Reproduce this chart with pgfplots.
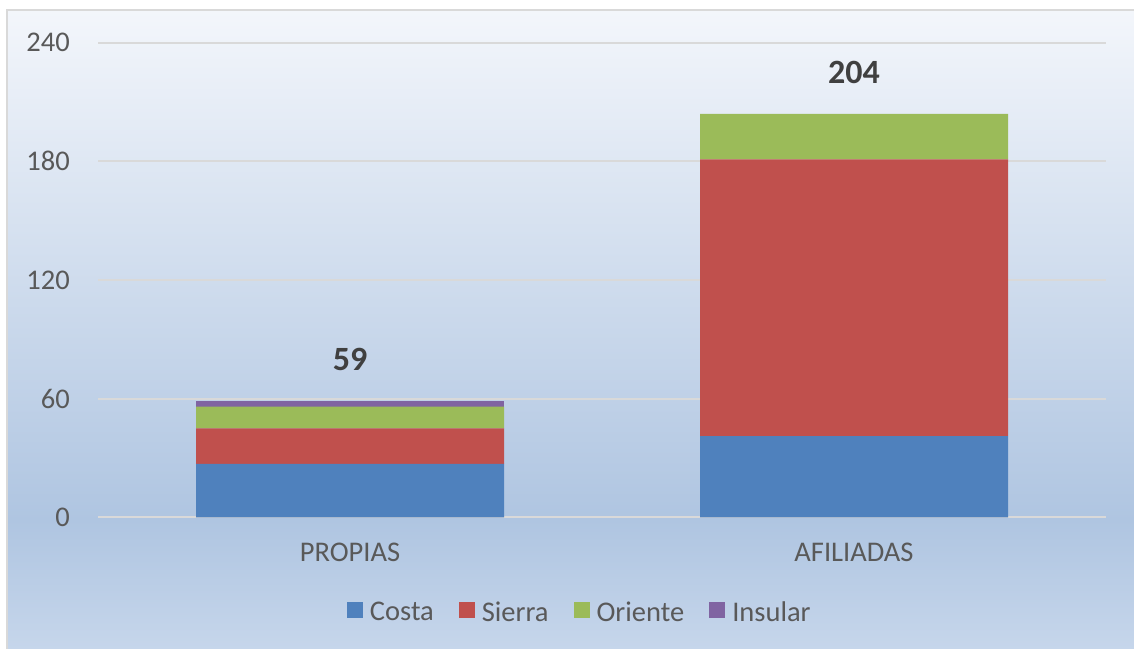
\documentclass[border=0pt]{standalone}
\usepackage{pgfplots}
\pgfplotsset{compat=1.18}
\usepackage{fontspec}
\setmainfont{Carlito}
\definecolor{costa}{HTML}{4F81BD}
\definecolor{sierra}{HTML}{C0504D}
\definecolor{oriente}{HTML}{9BBB59}
\definecolor{insular}{HTML}{8064A2}
\definecolor{gridgray}{HTML}{D9D9D9}
\definecolor{textgray}{HTML}{595959}
\definecolor{labgray}{HTML}{404040}
\definecolor{bgtop}{HTML}{F3F6FB}
\definecolor{bgmid}{HTML}{AFC5E1}
\definecolor{bgbot}{HTML}{C6D6EB}
\pgfdeclareverticalshading{bgshade}{100bp}{color(0bp)=(bgbot); color(25bp)=(bgbot); color(35.1bp)=(bgmid); color(75bp)=(bgtop); color(100bp)=(bgtop)}
\pgfplotsset{
  commonaxis/.style={
    at={(98bp,131.7bp)}, anchor=south west,
    width=1008bp, height=474.6bp, scale only axis,
    xmin=-0.5, xmax=1.5, ymin=0, ymax=240,
    enlargelimits=false,
    /pgf/number format/assume math mode=true,
  }
}
\begin{document}
\begin{tikzpicture}
\useasboundingbox (0,0) rectangle (1134bp,649bp);
\fill[white] (0,0) rectangle (1134bp,649bp);
\shade[shading=bgshade] (6.5bp,0bp) rectangle (1134bp,639bp);
\draw[gridgray, line width=2bp] (6.5bp,-2bp) -- (6.5bp,639bp) -- (1140bp,639bp);
\begin{axis}[
  commonaxis,
  ybar stacked, bar width=308bp,
  axis line style={draw=none},
  tick style={draw=none},
  major tick length=0pt,
  ymajorgrids,
  grid style={gridgray, line width=2bp},
  xtick={0,1}, xticklabels={PROPIAS,AFILIADAS},
  ytick={0,60,120,180,240},
  tick label style={font=\fontsize{28.5bp}{34bp}\selectfont, text=textgray},
  yticklabel style={anchor=east, inner sep=0pt, xshift=-28bp},
  xticklabel style={anchor=north, inner sep=0pt, yshift=-26bp},
  legend columns=4,
  legend cell align=left,
  legend image code/.code={\fill[#1] (0bp,-5.8bp) rectangle (16bp,10.2bp);},
  legend style={draw=none, fill=none, at={(0.477,-0.1995)}, anchor=center,
    font=\fontsize{28.5bp}{34bp}\selectfont, text=textgray,
    nodes={inner sep=0pt},
    column sep=7bp,
    /tikz/every even column/.append style={column sep=25bp}},
]
\addplot[fill=costa, draw=none] coordinates {(0,27) (1,41)};
\addlegendentry{Costa}
\addplot[fill=sierra, draw=none] coordinates {(0,18) (1,140)};
\addlegendentry{Sierra}
\addplot[fill=oriente, draw=none] coordinates {(0,11) (1,23)};
\addlegendentry{Oriente}
\addplot[fill=insular, draw=none] coordinates {(0,3) (1,0)};
\addlegendentry{Insular}
\end{axis}
\begin{axis}[
  commonaxis,
  hide axis,
]
\addplot[draw=none, mark=none,
  nodes near coords, point meta=y,
  every node near coord/.append style={anchor=south, inner sep=0pt, yshift=30bp,
    font=\fontsize{34bp}{40bp}\selectfont\bfseries, text=labgray}]
  coordinates {(0,59) (1,204)};
\end{axis}
\end{tikzpicture}
\end{document}
